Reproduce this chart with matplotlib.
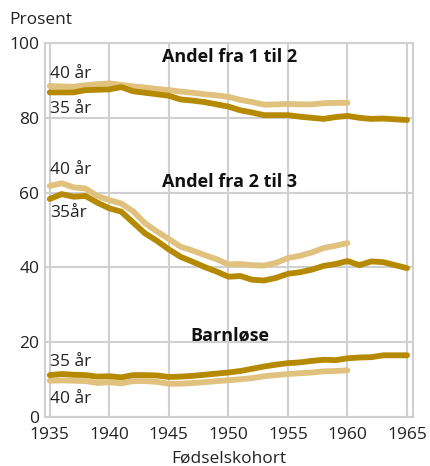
import matplotlib
matplotlib.use("Agg")
import matplotlib.pyplot as plt

plt.rcParams['font.family'] = ['Open Sans', 'DejaVu Sans']

years35 = list(range(1935, 1966))
years40 = list(range(1935, 1961))

# Andel fra 1 til 2
en_to_35 = [86.8, 86.8, 86.8, 87.4, 87.5, 87.6, 88.2, 87.1, 86.7, 86.3, 85.9,
            84.9, 84.6, 84.2, 83.6, 83.0, 82.0, 81.4, 80.7, 80.7, 80.7, 80.3,
            80.0, 79.7, 80.2, 80.5, 80.0, 79.7, 79.8, 79.6, 79.4]
en_to_40 = [88.5, 88.4, 88.3, 88.7, 89.0, 89.2, 88.8, 88.4, 88.1, 87.7, 87.4,
            87.0, 86.7, 86.3, 86.0, 85.6, 84.8, 84.2, 83.5, 83.6, 83.7, 83.6,
            83.6, 83.9, 84.0, 84.0]

# Andel fra 2 til 3
to_tre_35 = [58.3, 59.6, 58.9, 59.1, 57.3, 55.8, 54.9, 52.0, 49.1, 47.1, 44.8,
             42.8, 41.5, 40.1, 38.9, 37.5, 37.7, 36.7, 36.5, 37.2, 38.3, 38.7,
             39.4, 40.4, 40.9, 41.7, 40.6, 41.6, 41.4, 40.6, 39.8]
to_tre_40 = [61.8, 62.5, 61.4, 61.1, 59.1, 58.0, 57.1, 55.0, 51.8, 49.6, 47.6,
             45.5, 44.5, 43.3, 42.2, 40.8, 40.9, 40.6, 40.5, 41.2, 42.5, 43.1,
             44.0, 45.2, 45.8, 46.5]

# Barnløse
barnlose_35 = [11.2, 11.5, 11.3, 11.2, 10.8, 10.9, 10.6, 11.2, 11.2, 11.1, 10.7,
               10.8, 11.0, 11.3, 11.6, 11.9, 12.3, 12.9, 13.5, 14.0, 14.4, 14.6,
               15.0, 15.3, 15.2, 15.7, 15.9, 16.0, 16.5, 16.5, 16.5]
barnlose_40 = [9.7, 9.8, 9.7, 9.6, 9.1, 9.3, 9.0, 9.6, 9.6, 9.4, 8.9,
               8.9, 9.1, 9.3, 9.6, 9.8, 10.1, 10.4, 10.9, 11.2, 11.5, 11.7,
               11.9, 12.2, 12.3, 12.5]

dark = "#b68a00"
light = "#e0c27e"
grid = "#d0d0d0"
fs = 12.5

fig = plt.figure(figsize=(4.3, 4.66), dpi=100)
ax = fig.add_axes([45/430, 49/466, 368/430, 374/466])

for y40 in [en_to_40, to_tre_40, barnlose_40]:
    ax.plot(years40, y40, color=light, lw=4.2, solid_capstyle='round', zorder=3)
for y35 in [en_to_35, to_tre_35, barnlose_35]:
    ax.plot(years35, y35, color=dark, lw=4.2, solid_capstyle='round', zorder=4)

ax.set_xlim(1934.6, 1965.5)
ax.set_ylim(0, 100)
ax.set_xticks(range(1935, 1966, 5))
ax.set_yticks(range(0, 101, 20))
ax.grid(True, color=grid, lw=1.5)
ax.set_axisbelow(True)
for s in ax.spines.values():
    s.set_color(grid)
    s.set_linewidth(1.5)
ax.tick_params(length=0, labelsize=fs, colors="#222222")
ax.tick_params(axis='x', pad=7)
ax.tick_params(axis='y', pad=4)
ax.set_xlabel("Fødselskohort", fontsize=fs, color="#222222", labelpad=6)
fig.text(9/430, 1 - 20/466, "Prosent", fontsize=fs, color="#222222", va='center')

lab = dict(fontsize=fs, color="#222222", va='center', ha='left')
ax.text(1935, 91.7, "40 år", **lab)
ax.text(1935, 82.4, "35 år", **lab)
ax.text(1935, 66.0, "40 år", **lab)
ax.text(1935, 54.5, "35år", **lab)
ax.text(1935, 14.7, "35 år", **lab)
ax.text(1935, 4.8, "40 år", **lab)

bold = dict(fontsize=13, fontweight='bold', color="#111111", va='center', ha='center')
ax.text(1950.1, 96.3, "Andel fra 1 til 2", **bold)
ax.text(1950.1, 62.8, "Andel fra 2 til 3", **bold)
ax.text(1950.1, 21.9, "Barnløse", **bold)

fig.savefig("out.png", dpi=100)
